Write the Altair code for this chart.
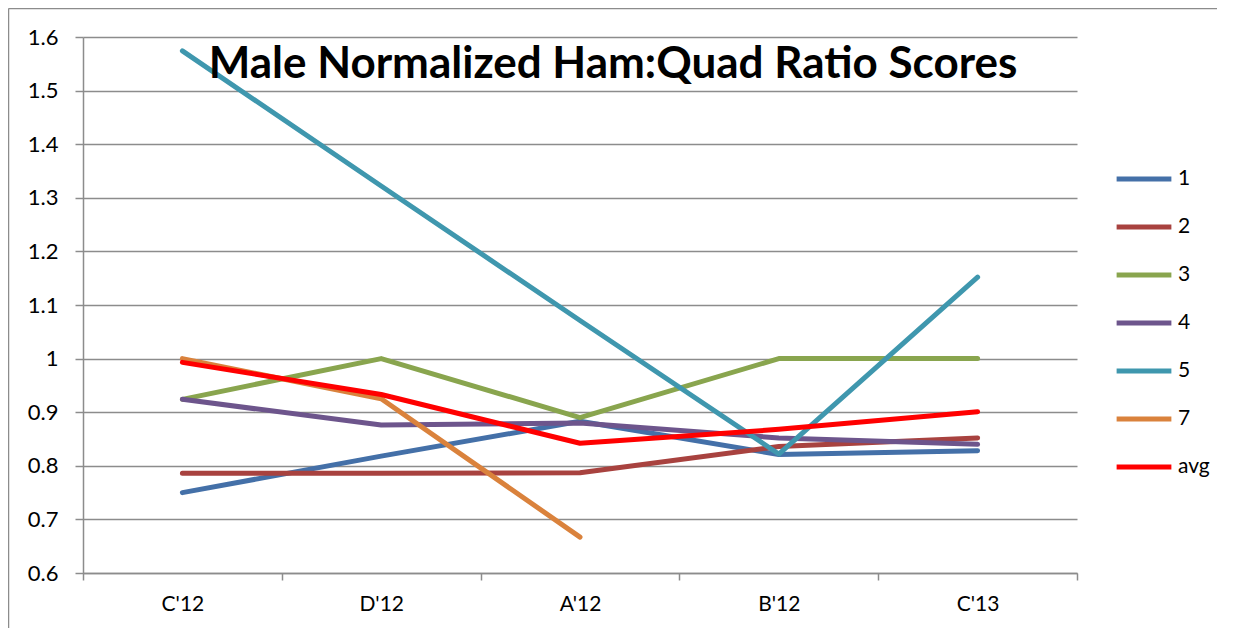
import altair as alt
import pandas as pd

categories = ["C'12", "D'12", "A'12", "B'12", "C'13"]
series_names = ["1", "2", "3", "4", "5", "7", "avg"]
s1 = [0.750, 0.818, 0.883, 0.821, 0.828]
s2 = [0.786, 0.786, 0.787, 0.836, 0.852]
s3 = [0.924, 1.000, 0.890, 1.000, 1.000]
s4 = [0.924, 0.876, 0.880, 0.852, 0.840]
s5 = [1.574, 1.322, 1.071, 0.822, 1.152]
s7 = [1.000, 0.925, 0.667, None, None]
savg = [0.993, 0.933, 0.842, 0.868, 0.901]
colors = ["#4470A8", "#A8423F", "#89A54E", "#6D558C", "#3F97AE", "#DA823C", "#FF0000"]
y_ticks = [0.6, 0.7, 0.8, 0.9, 1.0, 1.1, 1.2, 1.3, 1.4, 1.5, 1.6]

rows = []
for name, vals in zip(series_names, [s1, s2, s3, s4, s5, s7, savg]):
    for c, v in zip(categories, vals):
        if v is not None:
            rows.append({"period": c, "series": name, "value": v})
df = pd.DataFrame(rows)

FONT = "Lato"

lines = alt.Chart(df).mark_line(strokeWidth=5, strokeCap="round", strokeJoin="round").encode(
    x=alt.X("period:N", sort=categories, bandPosition=0.5,
            scale=alt.Scale(type="band", paddingInner=0, paddingOuter=0),
            axis=alt.Axis(title=None, labelAngle=0, tickBand="extent", grid=False,
                          labelFontSize=21, labelFont=FONT, labelColor="#000",
                          labelPadding=13, tickSize=7, tickColor="#8c8c8c",
                          domainColor="#8c8c8c", domainWidth=1.5, tickWidth=1.5)),
    y=alt.Y("value:Q", scale=alt.Scale(domain=[0.6, 1.6], nice=False, zero=False),
            axis=alt.Axis(title=None, values=y_ticks, format="~g",
                          labelFontSize=22, labelFont=FONT, labelColor="#000",
                          labelPadding=17, tickSize=8, tickColor="#8c8c8c",
                          domainColor="#8c8c8c", domainWidth=1.5, tickWidth=1.5,
                          gridColor="#8c8c8c", gridWidth=1.5)),
    color=alt.Color("series:N", sort=series_names,
                    scale=alt.Scale(domain=series_names, range=colors),
                    legend=alt.Legend(title=None, orient="none", legendX=1031, legendY=112,
                                      symbolType="stroke", symbolSize=3000,
                                      symbolStrokeWidth=5, labelFontSize=21,
                                      labelFont=FONT, labelColor="#000",
                                      labelOffset=4, rowPadding=8, padding=0)),
    order=alt.Order("series:N"),
)

frame_df = pd.DataFrame({"a": [0]})
top_border = alt.Chart(frame_df).mark_rule(color="#8c8c8c", strokeWidth=1.5).encode(
    x=alt.value(-74.5), x2=alt.value(1151), y=alt.value(-28.5))
left_border = alt.Chart(frame_df).mark_rule(color="#8c8c8c", strokeWidth=1.5).encode(
    x=alt.value(-74.5), y=alt.value(-28.5), y2=alt.value(600))

chart = alt.layer(lines, top_border, left_border).properties(
    width=994, height=536,
    autosize=alt.AutoSizeParams(type="none"),
    padding={"left": 75, "top": 29, "right": 140, "bottom": 55},
    title=alt.TitleParams("Male Normalized Ham:Quad Ratio Scores", font=FONT,
                          fontSize=44, fontWeight="bold", color="#000",
                          anchor="middle", baseline="alphabetic", offset=-114,
                          dx=33),
).configure_view(stroke=None)

chart.save("out.html", embed_options={"renderer": "svg", "actions": False})
